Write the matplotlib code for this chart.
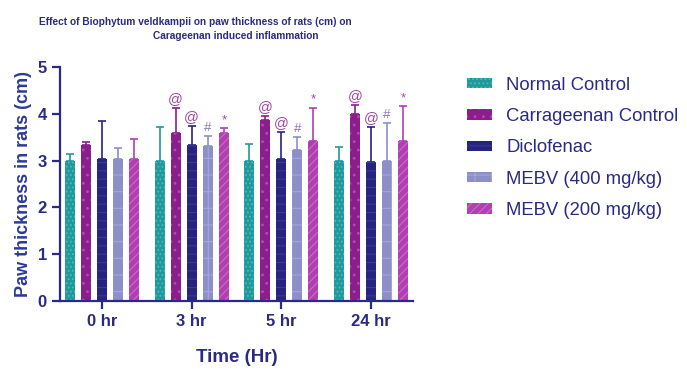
import numpy as np
import matplotlib
matplotlib.use("Agg")
import matplotlib.pyplot as plt
from matplotlib.patches import Patch

plt.rcParams['font.family'] = ['Liberation Sans', 'DejaVu Sans']
plt.rcParams['hatch.linewidth'] = 0.8

# data
times = ['0 hr', '3 hr', '5 hr', '24 hr']
groups = ['Normal Control', 'Carrageenan Control', 'Diclofenac',
          'MEBV (400 mg/kg)', 'MEBV (200 mg/kg)']
means = {
    'Normal Control':      [3.00, 3.00, 3.00, 3.00],
    'Carrageenan Control': [3.34, 3.59, 3.87, 4.00],
    'Diclofenac':          [3.04, 3.34, 3.04, 2.98],
    'MEBV (400 mg/kg)':    [3.04, 3.32, 3.22, 3.00],
    'MEBV (200 mg/kg)':    [3.04, 3.59, 3.41, 3.41],
}
errs = {
    'Normal Control':      [0.15, 0.72, 0.36, 0.29],
    'Carrageenan Control': [0.06, 0.53, 0.09, 0.18],
    'Diclofenac':          [0.80, 0.40, 0.57, 0.74],
    'MEBV (400 mg/kg)':    [0.24, 0.21, 0.28, 0.80],
    'MEBV (200 mg/kg)':    [0.42, 0.11, 0.72, 0.75],
}
marks = {
    'Normal Control':      ['', '', '', ''],
    'Carrageenan Control': ['', '@', '@', '@'],
    'Diclofenac':          ['', '@', '@', '@'],
    'MEBV (400 mg/kg)':    ['', '#', '#', '#'],
    'MEBV (200 mg/kg)':    ['', '*', '*', '*'],
}

colors = ['#1f9a9c', '#8a1f8c', '#26247f', '#8d8fc9', '#b23fb0']
hatchcols = ['#4fb8ba', '#b04cb2', '#3a3a9a', '#a5a7d8', '#cf6acd']
hatches = ['....', '..', '--', '+', '////']
markcols = ['#1f9a9c', '#a346a5', '#a346a5', '#8d6fc0', '#b23fb0']
navy = '#2a2a86'

fig = plt.figure(figsize=(6.87, 3.70), dpi=100)
ax = fig.add_axes([0.0873, 0.186, 0.514, 0.633])

x = np.arange(len(times))
step = 0.179
width = 0.112
for i, g in enumerate(groups):
    xs = x + (i - 2) * step
    ax.errorbar(xs, means[g], yerr=[np.zeros(4), errs[g]], fmt='none',
                ecolor=colors[i], elinewidth=1.2, capsize=3, capthick=1.2,
                zorder=1)
    ax.bar(xs, means[g], width=width, color=colors[i], edgecolor=hatchcols[i],
           linewidth=0, hatch=hatches[i], zorder=2)
    for j in range(4):
        if marks[g][j]:
            top = means[g][j] + errs[g][j]
            fs = 10.5 if marks[g][j] == '@' else 9.5
            ax.text(xs[j], top + 0.04, marks[g][j], ha='center', va='bottom',
                    fontsize=fs, color=markcols[i], zorder=3)

ax.set_xlim(-0.47, 3.47)
ax.set_ylim(0, 5)
ax.set_xticks(x)
ax.set_xticklabels(times, fontsize=12, fontweight='bold', color=navy)
ax.set_yticks(range(6))
ax.set_yticklabels([str(v) for v in range(6)], fontsize=12,
                   fontweight='bold', color=navy)
for s in ['top', 'right']:
    ax.spines[s].set_visible(False)
for s in ['left', 'bottom']:
    ax.spines[s].set_color(navy)
    ax.spines[s].set_linewidth(1.6)
ax.tick_params(axis='both', colors=navy, width=1.6, length=6)
ax.set_ylabel('Paw thickness in rats (cm)', fontsize=13, fontweight='bold',
              color='#2a3a9a', labelpad=4)
ax.set_xlabel('Time (Hr)', fontsize=13.5, fontweight='bold', color=navy,
              labelpad=14)

fig.text(0.285, 0.94, 'Effect of Biophytum veldkampii on paw thickness of rats (cm) on',
         ha='center', va='center', fontsize=7.3, fontweight='bold', color=navy)
fig.text(0.343, 0.903, 'Carageenan induced inflammation',
         ha='center', va='center', fontsize=7.3, fontweight='bold', color=navy)

handles = [Patch(facecolor=colors[i], edgecolor=hatchcols[i], hatch=hatches[i],
                 linewidth=0) for i in range(len(groups))]
leg = fig.legend(handles, groups, loc='upper left', bbox_to_anchor=(0.655, 0.838),
                 frameon=False, fontsize=13.3, handlelength=1.35, handleheight=0.5,
                 labelspacing=0.78, handletextpad=0.8)
for t in leg.get_texts():
    t.set_color(navy)

fig.savefig('out.png', dpi=100)
